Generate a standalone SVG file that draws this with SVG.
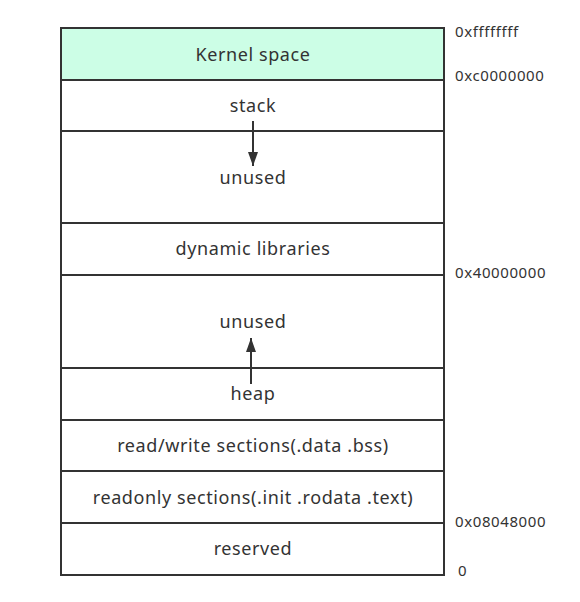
<svg xmlns="http://www.w3.org/2000/svg" width="580" height="602" viewBox="0 0 580 602">
<style>
.box{fill:#ffffff;stroke:#333333;stroke-width:2}
.t{font-family:"Noto Sans","Open Sans","Liberation Sans",sans-serif;font-size:18px;letter-spacing:0.6px;fill:#333333;text-anchor:middle}
.a{font-family:"Noto Sans","Open Sans","Liberation Sans",sans-serif;font-size:15px;letter-spacing:0.6px;fill:#333333}
.c{stroke:#333333;stroke-width:2;fill:none}
</style>
<defs>
<marker id="ah" markerWidth="14" markerHeight="10" refX="14" refY="5" orient="auto" markerUnits="userSpaceOnUse" viewBox="0 0 14 10">
<path d="M0,0 L14,5 L0,10 Z" fill="#333333"/>
</marker>
</defs>
<g id="kernel"><rect class="box" x="61" y="28" width="383" height="52" style="fill:#ccfee6"/><text class="t" x="253" y="61">Kernel space</text></g>
<g id="stack"><rect class="box" x="61" y="80" width="383" height="51"/><text class="t" x="253" y="112">stack</text></g>
<g id="unused1"><rect class="box" x="61" y="131" width="383" height="92"/><text class="t" x="253" y="184">unused</text></g>
<g id="dynlib"><rect class="box" x="61" y="223" width="383" height="52"/><text class="t" x="253" y="255">dynamic libraries</text></g>
<g id="unused2"><rect class="box" x="61" y="275" width="383" height="93"/><text class="t" x="253" y="328">unused</text></g>
<g id="heap"><rect class="box" x="61" y="368" width="383" height="52"/><text class="t" x="253" y="400">heap</text></g>
<g id="rw"><rect class="box" x="61" y="420" width="383" height="51"/><text class="t" x="253" y="452">read/write sections(.data .bss)</text></g>
<g id="ro"><rect class="box" x="61" y="471" width="383" height="52"/><text class="t" x="253" y="504">readonly sections(.init .rodata .text)</text></g>
<g id="reserved"><rect class="box" x="61" y="523" width="383" height="52"/><text class="t" x="253" y="555">reserved</text></g>
<g id="connectors">
<path class="c" d="M253,121 L253,166" marker-end="url(#ah)"/>
<path class="c" d="M251,384 L251,338" marker-end="url(#ah)"/>
</g>
<g id="addresses">
<text class="a" x="455" y="37">0xffffffff</text>
<text class="a" x="455" y="81">0xc0000000</text>
<text class="a" x="455" y="278">0x40000000</text>
<text class="a" x="455" y="527">0x08048000</text>
<text class="a" x="458" y="576">0</text>
</g>
</svg>
